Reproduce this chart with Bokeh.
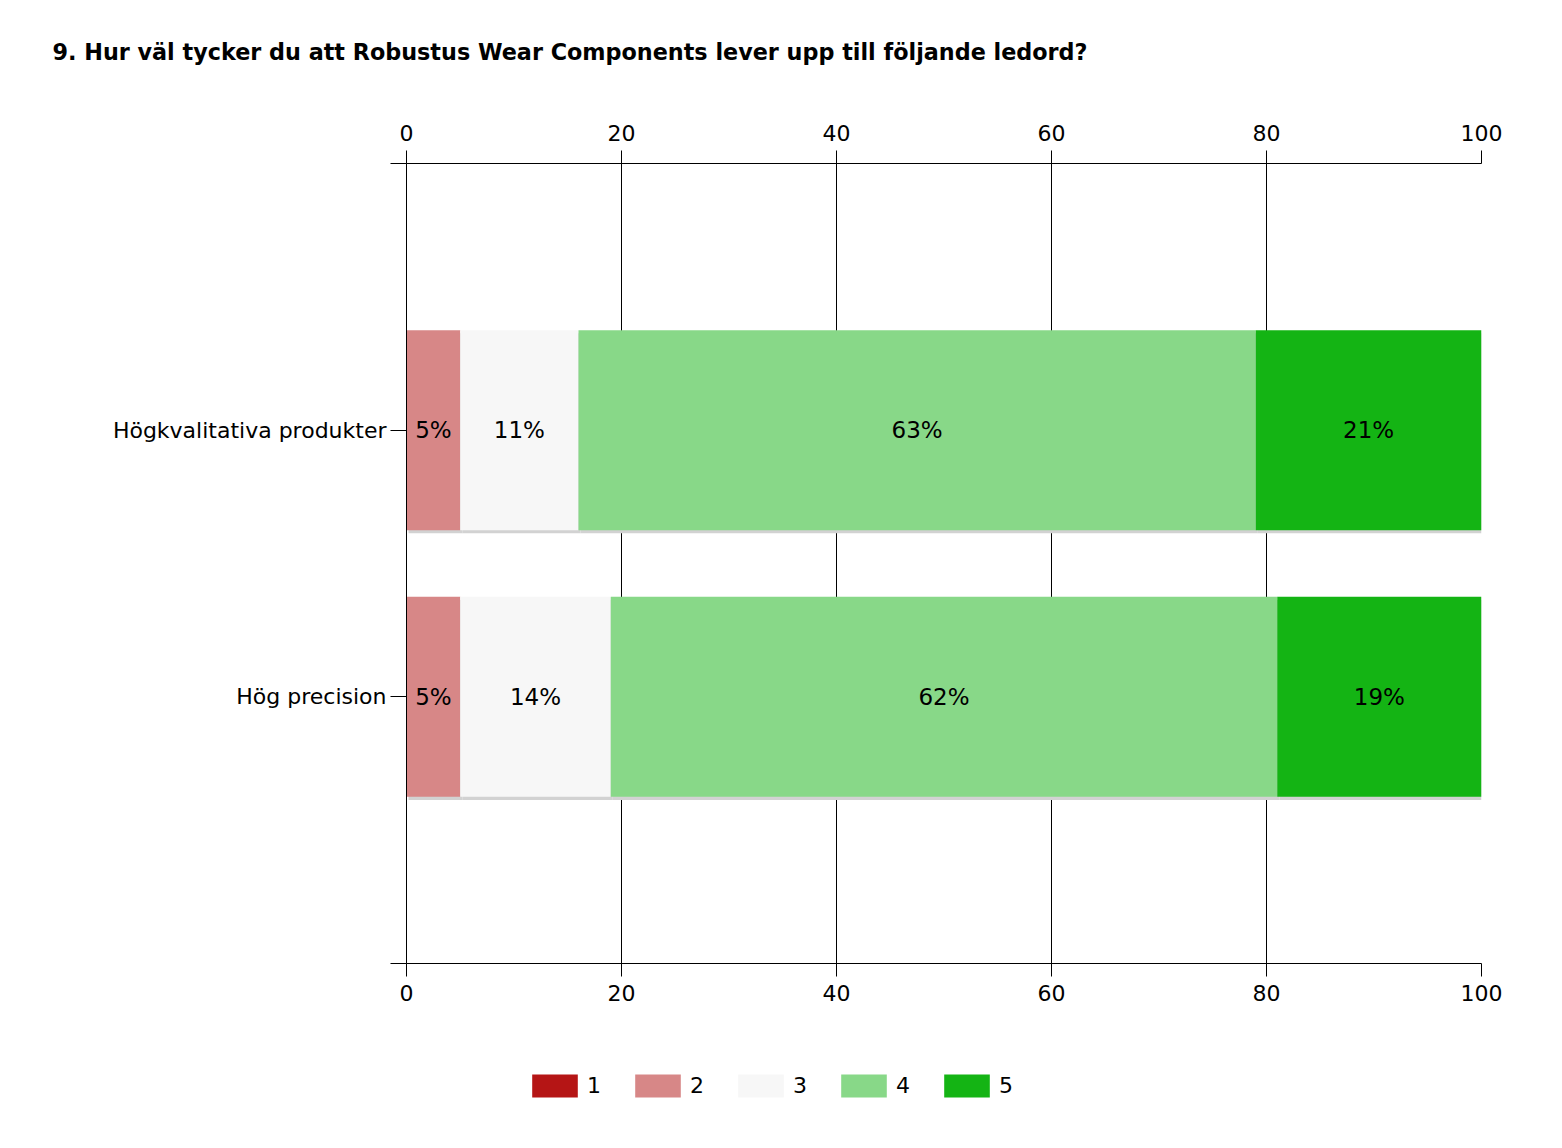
from bokeh.plotting import figure
from bokeh.layouts import column
from bokeh.models import Range1d, LinearAxis, FixedTicker, Legend, LegendItem, ColumnDataSource, Label
from bokeh.core.properties import value
from bokeh.embed import file_html
from bokeh.resources import INLINE

title_text = "9. Hur väl tycker du att Robustus Wear Components lever upp till följande ledord?"
categories = ["Högkvalitativa produkter", "Hög precision"]
levels = ["1", "2", "3", "4", "5"]
colors = ["#B51515", "#D78787", "#F7F7F7", "#88D888", "#14B414"]
v1 = [0, 0]
v2 = [5, 5]
v3 = [11, 14]
v4 = [63, 62]
v5 = [21, 19]
series = [v1, v2, v3, v4, v5]
x_ticks = [0, 20, 40, 60, 80, 100]

FONT = "DejaVu Sans"
W = 1562
n = len(categories)
ypos = [n - i for i in range(n)]

# ---- title strip ----
tp = figure(width=W, height=100, output_backend="svg", toolbar_location=None,
            x_range=Range1d(0, W), y_range=Range1d(100, 0), frame_align=False,
            min_border=0, x_axis_location=None, y_axis_location=None)
tp.outline_line_color = None
tp.grid.visible = False
tp.add_layout(Label(x=52, y=51, text=title_text, text_font=FONT, text_font_size="22.3px",
                    text_font_style="bold", text_color="black", text_baseline="middle"))

# ---- main chart ----
p = figure(frame_width=1075, frame_height=800, output_backend="svg", toolbar_location=None,
           x_range=Range1d(0, 100), y_range=Range1d(0, n + 1), frame_align=False,
           x_axis_location=None, y_axis_location="left",
           min_border_left=406, min_border_right=81, min_border_top=63, min_border_bottom=60)
p.outline_line_color = None
p.background_fill_color = "white"
p.border_fill_color = "white"

p.xgrid.ticker = FixedTicker(ticks=x_ticks)
p.xgrid.grid_line_color = "black"
p.ygrid.grid_line_color = None

for loc, so in [("above", 10), ("below", 8)]:
    ax = LinearAxis(ticker=FixedTicker(ticks=x_ticks))
    ax.axis_line_color = "black"
    ax.major_tick_line_color = "black"
    ax.major_tick_out = 13
    ax.major_tick_in = 0
    ax.minor_tick_line_color = None
    ax.major_label_text_font = FONT
    ax.major_label_text_font_size = "22px"
    ax.major_label_text_color = "black"
    ax.major_label_standoff = so
    p.add_layout(ax, loc)

ya = p.yaxis[0]
ya.ticker = FixedTicker(ticks=list(range(0, n + 2)))
overrides = {0: "", n + 1: ""}
for c, y in zip(categories, ypos):
    overrides[y] = c
ya.major_label_overrides = overrides
ya.major_tick_out = 16
ya.major_tick_in = 0
ya.minor_tick_line_color = None
ya.axis_line_color = "black"
ya.major_tick_line_color = "black"
ya.major_label_text_font = FONT
ya.major_label_text_font_size = "22px"
ya.major_label_text_color = "black"
ya.major_label_standoff = 4

bar_h = 0.75
left = [0.0] * n
label_x, label_y, label_t = [], [], []
for lev, col, vals in zip(levels, colors, series):
    right = [l + v for l, v in zip(left, vals)]
    p.hbar(y=[y - 0.012 for y in ypos], left=[l + 0.19 for l in left], right=[r + 0.19 for r in right],
           height=bar_h, fill_color="#d2d2d2", line_color=None)
    for l, rr, v, y in zip(left, right, vals, ypos):
        if v > 0:
            label_x.append((l + rr) / 2)
            label_y.append(y)
            label_t.append(f"{v}%")
    left = right

left = [0.0] * n
for lev, col, vals in zip(levels, colors, series):
    right = [l + v for l, v in zip(left, vals)]
    p.hbar(y=ypos, left=left, right=right, height=bar_h, fill_color=col, line_color=None)
    left = right

src = ColumnDataSource(dict(x=label_x, y=label_y, t=label_t))
p.text(x="x", y="y", text="t", source=src, text_align="center", text_baseline="middle",
       text_font=value(FONT), text_font_size="23px", text_color="black")

# ---- legend strip (series drawn off-range, only their legend swatches show) ----
lp = figure(width=W, height=125, output_backend="svg", toolbar_location=None,
            x_range=Range1d(0, 100), y_range=Range1d(100, 101), frame_align=False,
            min_border=0, x_axis_location=None, y_axis_location=None)
lp.outline_line_color = None
lp.grid.visible = False
items = []
for lev, col, vals in zip(levels, colors, series):
    r = lp.hbar(y=ypos, left=[0] * n, right=vals, height=bar_h, fill_color=col, line_color=None)
    items.append(LegendItem(label=lev, renderers=[r]))
legend = Legend(items=items, orientation="horizontal", location=(526, 48),
                glyph_width=57, glyph_height=29, label_standoff=4, spacing=22,
                label_text_font=FONT, label_text_font_size="22px", label_text_color="black",
                border_line_color=None, background_fill_alpha=0,
                margin=0, padding=0)
lp.add_layout(legend, "center")

layout = column(tp, p, lp, spacing=0)
open("out.html", "w").write(file_html(layout, INLINE))
